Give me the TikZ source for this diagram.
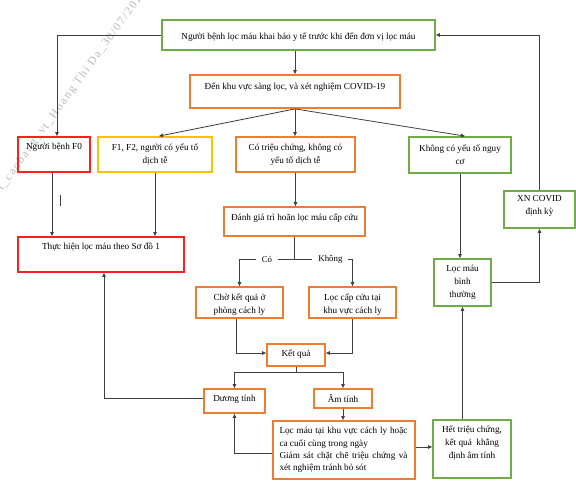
\documentclass[tikz,border=0pt]{standalone}
\usepackage{fontspec}
\setmainfont{Liberation Serif}
\newfontfamily\wmfont[LetterSpace=14]{Liberation Serif}
\usetikzlibrary{arrows.meta}
\definecolor{wgreen}{HTML}{70AD47}
\definecolor{worange}{HTML}{ED7D31}
\definecolor{wred}{HTML}{FF1F1F}
\definecolor{wyellow}{HTML}{FFC000}
\tikzset{
  box/.style={draw,line width=1.8pt,inner sep=0pt},
  gbox/.style={box,draw=wgreen},
  obox/.style={box,draw=worange},
  rbox/.style={box,draw=wred},
  ybox/.style={box,draw=wyellow},
  txt/.style={align=center,inner sep=0pt,font=\fontsize{9.2}{13}\selectfont},
  conn/.style={draw=black!75,line width=0.8pt},
  arr/.style={conn,-{Triangle[length=4pt,width=3.5pt]}},
  lbl/.style={fill=white,inner xsep=6pt,inner ysep=1pt,font=\fontsize{8.8}{10}\selectfont},
  wmark/.style={text=gray!55,inner sep=0pt,font=\wmfont\fontsize{11.5}{13}\selectfont}
}
\begin{document}
\begin{tikzpicture}[x=1pt,y=-1pt]
  % pixel grid of the scheme: x to the right, y downwards
  \useasboundingbox (0,0) rectangle (576,492);
  \begin{scope}
    \clip (0,0) rectangle (576,492);
    \node[wmark,anchor=base west,rotate=54] (wm) at (-2,197) {vt\_caobang\_vt\_Hoang Thi Da\_30/07/2021};
  \end{scope}
  % boxes
  \node[gbox,minimum width=273,minimum height=30] (top) at (298.5,35) {};
  \node[obox,minimum width=210,minimum height=33] (sang) at (295,91.5) {};
  \node[rbox,minimum width=72,minimum height=35] (f0) at (54,154.5) {};
  \node[ybox,minimum width=114,minimum height=35] (f1) at (155,154.5) {};
  \node[obox,minimum width=119,minimum height=35] (co) at (295.5,154.5) {};
  \node[gbox,minimum width=102,minimum height=36] (khong) at (460,155) {};
  \node[rbox,minimum width=166,minimum height=35] (thuc) at (101,254.5) {};
  \node[obox,minimum width=141,minimum height=29] (dg) at (294.5,221.5) {};
  \node[obox,minimum width=87,minimum height=31] (cho) at (239.5,302.5) {};
  \node[obox,minimum width=87,minimum height=31] (lcc) at (352.5,302.5) {};
  \node[obox,minimum width=58,minimum height=22] (kq) at (296,355) {};
  \node[obox,minimum width=61,minimum height=24] (dt) at (234.5,401) {};
  \node[obox,minimum width=58,minimum height=19] (am) at (343,398.5) {};
  \node[obox,minimum width=142,minimum height=58] (big) at (344,450) {};
  \node[gbox,minimum width=78,minimum height=58] (het) at (472,449) {};
  \node[gbox,minimum width=57,minimum height=47] (lm) at (462.5,282.5) {};
  \node[gbox,minimum width=71,minimum height=37] (xn) at (539.5,209.5) {};
  % texts
  \node[txt] (top-t) at (298.5,37) {Người bệnh lọc máu khai báo y tế trước khi đến đơn vị lọc máu};
  \node[txt] (sang-t) at (295,87) {Đến khu vực sàng lọc, và xét nghiệm COVID-19};
  \node[txt] (f0-t) at (54,147) {Người bệnh F0};
  \node[txt] (f1-t) at (155,154.5) {F1, F2, người có yếu tố\\dịch tễ};
  \node[txt] (co-t) at (295.5,154.5) {Có triệu chứng, không có\\yếu tố dịch tễ};
  \node[txt] (khong-t) at (460,155) {Không có yếu tố nguy\\cơ};
  \node[txt] (thuc-t) at (101,247) {Thực hiện lọc máu theo Sơ đồ 1};
  \node[txt] (dg-t) at (294.5,218) {Đánh giá trì hoãn lọc máu cấp cứu};
  \node[txt] (cho-t) at (239.5,304.5) {Chờ kết quả ở\\phòng cách ly};
  \node[txt] (lcc-t) at (352.5,304.5) {Lọc cấp cứu tại\\khu vực cách ly};
  \node[txt] (kq-t) at (296,354) {Kết quả};
  \node[txt] (dt-t) at (234.5,399) {Dương tính};
  \node[txt] (am-t) at (343,399) {Âm tính};
  \node[txt,align=left,font=\fontsize{9.2}{12.2}\selectfont] (big-t) at (343.5,450)
    {\makebox[128pt][s]{Lọc máu tại khu vực cách ly hoặc}\\ca cuối cùng trong ngày\\
     \makebox[128pt][s]{Giám sát chặt chẽ triệu chứng và}\\xét nghiệm tránh bỏ sót};
  \node[txt] (het-t) at (472,443) {Hết triệu chứng,\\kết quả\ \ khẳng\\định âm tính};
  \node[txt] (lm-t) at (462.5,282) {Lọc máu\\bình\\thường};
  \node[txt] (xn-t) at (539.5,206) {XN COVID\\định kỳ};
  % connectors
  \coordinate (cokh) at (294.5,259);
  \coordinate (kqs) at (296,372);
  \draw[arr] (top.south -| sang.north) -- (sang.north);
  \draw[arr] (top.west) -| ([xshift=3pt]f0.north);
  \draw[arr] (xn.north) |- (top.east);
  \draw[arr] (sang.south) -- ([xshift=4pt]f1.north);
  \draw[arr] (sang.south) -- (sang.south |- co.north);
  \draw[arr] (sang.south) -- ([xshift=5pt]khong.north);
  \draw[arr] ([xshift=-2pt]f0.south) -- ([xshift=-2pt]f0.south |- thuc.north);
  \draw[arr] (f1.south) -- (f1.south |- thuc.north);
  \draw[conn] (60,195) -- (60,206);
  \draw[arr] (co.south) -- (co.south |- dg.north);
  \draw[conn] (dg.south) -- (cokh);
  \draw[arr] (cokh) -- node[lbl] {Có} (cokh -| cho.north) -- (cho.north);
  \draw[arr] (cokh) -- node[lbl,pos=0.62] {Không} (cokh -| lcc.north) -- (lcc.north);
  \draw[arr] ([xshift=-3pt]cho.south) |- ([yshift=2pt]kq.west);
  \draw[arr] (lcc.south) |- ([yshift=2pt]kq.east);
  \draw[conn] (kq.south) -- (kqs);
  \draw[arr] (kqs) -| (dt.north);
  \draw[arr] (kqs) -| (am.north);
  \draw[arr] (am.south) -- (am.south |- big.north);
  \draw[arr] ([yshift=-3pt]big.west) -| (dt.south);
  \draw[arr] ([yshift=3pt]dt.west) -| ([xshift=3pt]thuc.south);
  \draw[arr] ([yshift=3pt]big.east) -- ([yshift=3pt]big.east -| het.west);
  \draw[arr] (lm.south |- het.north) -- (lm.south);
  \draw[arr] (khong.south) -- (khong.south |- lm.north);
  \draw[arr] (lm.east) -| (xn.south);
\end{tikzpicture}
\end{document}
